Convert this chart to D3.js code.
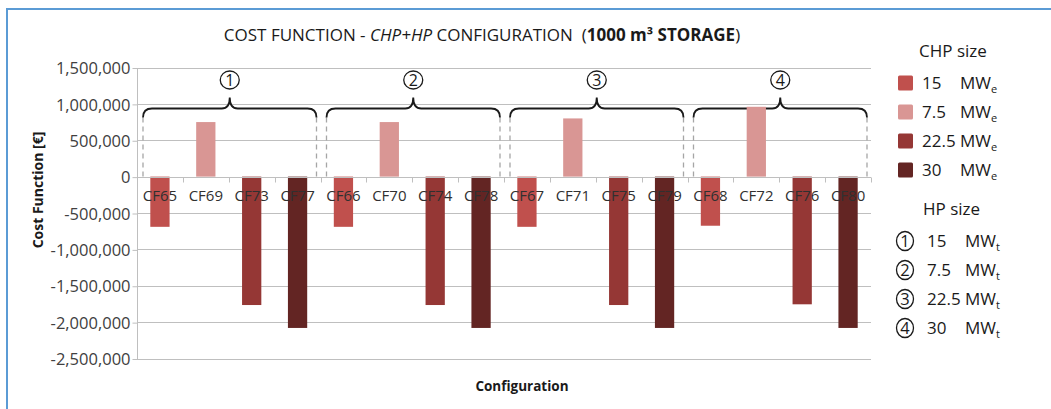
<!DOCTYPE html>
<html>
<head>
<meta charset="utf-8">
<script src="https://cdn.jsdelivr.net/npm/d3@7"></script>
<style>
  html, body { margin: 0; padding: 0; background: #fff; }
  svg { display: block; font-family: "Open Sans", "Noto Sans", sans-serif; }
</style>
</head>
<body>
<svg id="chart" width="1051" height="409"></svg>
<script>
// Configurations in drawing order, grouped by heat-pump size
const configs = ["CF65","CF69","CF73","CF77","CF66","CF70","CF74","CF78",
                 "CF67","CF71","CF75","CF79","CF68","CF72","CF76","CF80"];
// Cost function value of each configuration (€)
const costValues = [-690000, 750000, -1765000, -2080000,
                    -690000, 750000, -1765000, -2080000,
                    -690000, 800000, -1765000, -2080000,
                    -675000, 960000, -1755000, -2080000];
// CHP size index (into chpSizes) of each configuration
const configChp = [0,1,2,3, 0,1,2,3, 0,1,2,3, 0,1,2,3];
// HP size group (into hpSizes) of each configuration
const configHp  = [0,0,0,0, 1,1,1,1, 2,2,2,2, 3,3,3,3];

const chpSizes = ["15", "7.5", "22.5", "30"];
const chpColors = ["#C0504D", "#D99694", "#953735", "#632523"];
const hpSizes = ["15", "7.5", "22.5", "30"];
const hpMarks = ["1", "2", "3", "4"];

const yTicks = [1500000, 1000000, 500000, 0, -500000, -1000000, -1500000, -2000000, -2500000];

const svg = d3.select("#chart");

// frame
svg.append("path")
  .attr("d", "M7,409 L7,9 L1051,9")
  .attr("fill", "none").attr("stroke", "#5B9BD5").attr("stroke-width", 2);

const plot = { left: 137, right: 871, top: 67.5, bottom: 358.5 };

const x = d3.scaleBand().domain(configs).range([plot.left, plot.right]).padding(0);
const y = d3.scaleLinear().domain([-2500000, 1500000]).range([plot.bottom, plot.top]);

// horizontal gridlines
svg.append("g").selectAll("line").data(yTicks).join("line")
  .attr("x1", plot.left).attr("x2", plot.right)
  .attr("y1", d => Math.round(y(d)) + 0.5).attr("y2", d => Math.round(y(d)) + 0.5)
  .attr("stroke", "#BFBFBF").attr("stroke-width", 1);

// y axis (hyphen for negatives, thousands separated by commas)
const fmt = d3.format(",");
const yAxis = d3.axisLeft(y).tickValues(yTicks).tickSize(5)
  .tickFormat(d => fmt(d).replace("\u2212", "-"));
const gy = svg.append("g").attr("transform", `translate(${plot.left + 0.5},0.5)`).call(yAxis);
gy.select(".domain").attr("stroke", "#BFBFBF").attr("d", `M0,${Math.round(plot.top)}V${Math.round(plot.bottom)}`);
gy.selectAll(".tick line").attr("stroke", "#BFBFBF");
gy.selectAll(".tick text")
  .attr("x", -7).attr("dy", "0.34em")
  .attr("fill", "#404040").style("font-size", "16.5px")
  .style("font-family", "\"Open Sans\", sans-serif");

// dashed group separators and braces
const groups = d3.range(hpSizes.length).map(g => {
  const members = configs.filter((c, i) => configHp[i] === g);
  const x0 = x(members[0]) + 6;
  const x1 = x(members[members.length - 1]) + x.bandwidth() - 4;
  return { g, x0, x1 };
});

const braceTop = 108.5, braceEnd = 117.5, bracePeak = 97.5;
svg.append("g").selectAll("path").data(groups).join("path")
  .attr("d", d => `M${d.x0},${braceEnd}V${y(0)} M${d.x1},${braceEnd}V${y(0)}`)
  .attr("stroke", "#A6A6A6").attr("stroke-width", 1.3)
  .attr("stroke-dasharray", "5,4").attr("fill", "none");

svg.append("g").selectAll("path").data(groups).join("path")
  .attr("d", d => {
    const m = (d.x0 + d.x1) / 2;
    return `M${d.x0},${braceEnd}` +
      `Q${d.x0},${braceTop} ${d.x0 + 9},${braceTop}` +
      `H${m - 8}` +
      `Q${m},${braceTop} ${m},${bracePeak}` +
      `Q${m},${braceTop} ${m + 8},${braceTop}` +
      `H${d.x1 - 9}` +
      `Q${d.x1},${braceTop} ${d.x1},${braceEnd}`;
  })
  .attr("fill", "none").attr("stroke", "#1a1a1a").attr("stroke-width", 1.8);

const markers = svg.append("g").selectAll("g").data(groups).join("g")
  .attr("transform", d => `translate(${(d.x0 + d.x1) / 2},80)`);
markers.append("ellipse").attr("rx", 9.5).attr("ry", 9)
  .attr("fill", "#fff").attr("stroke", "#1a1a1a").attr("stroke-width", 1.3);
markers.append("text").attr("text-anchor", "middle").attr("dy", "0.36em")
  .style("font-size", "16px").attr("fill", "#1a1a1a").text(d => hpMarks[d.g]);

// bars
const barW = x.bandwidth() * 0.42;
svg.append("g").selectAll("rect").data(configs).join("rect")
  .attr("x", d => x(d) + (x.bandwidth() - barW) / 2)
  .attr("width", barW)
  .attr("y", (d, i) => y(Math.max(0, costValues[i])))
  .attr("height", (d, i) => Math.abs(y(costValues[i]) - y(0)))
  .attr("fill", (d, i) => chpColors[configChp[i]]);

// category axis along zero
const zeroY = Math.round(y(0)) + 0.5;
svg.append("line").attr("x1", plot.left).attr("x2", plot.right)
  .attr("y1", zeroY).attr("y2", zeroY).attr("stroke", "#BFBFBF");
svg.append("g").selectAll("line").data(configs).join("line")
  .attr("x1", d => Math.round(x(d) + x.bandwidth()) + 0.5)
  .attr("x2", d => Math.round(x(d) + x.bandwidth()) + 0.5)
  .attr("y1", zeroY).attr("y2", zeroY + 5).attr("stroke", "#BFBFBF");

svg.append("g").selectAll("text").data(configs).join("text")
  .attr("x", d => x(d) + x.bandwidth() / 2)
  .attr("y", 201)
  .attr("text-anchor", "middle")
  .style("font-size", "15px").attr("fill", "#303030")
  .text(d => d);

// title
const title = svg.append("text").attr("x", 482).attr("y", 41)
  .attr("text-anchor", "middle").style("font-size", "17px").attr("fill", "#1a1a1a")
  .attr("xml:space", "preserve");
title.append("tspan").text("COST FUNCTION - ");
title.append("tspan").style("font-style", "italic").text("CHP+HP");
title.append("tspan").text(" CONFIGURATION  (");
title.append("tspan").style("font-weight", "bold").text("1000 m³ STORAGE");
title.append("tspan").text(")");

// axis titles
svg.append("text")
  .attr("transform", "translate(43,190) rotate(-90)")
  .attr("text-anchor", "middle").style("font-size", "14px").style("font-weight", "bold")
  .attr("fill", "#1a1a1a").text("Cost Function [€]");
svg.append("text").attr("x", 522).attr("y", 391)
  .attr("text-anchor", "middle").style("font-size", "13.5px").style("font-weight", "bold")
  .attr("fill", "#1a1a1a").text("Configuration");

// legend: CHP size
svg.append("text").attr("x", 919).attr("y", 57).style("font-size", "17px")
  .attr("fill", "#1a1a1a").text("CHP size");
const chpRows = svg.append("g").selectAll("g").data(chpSizes).join("g")
  .attr("transform", (d, i) => `translate(0,${83 + i * 29})`);
chpRows.append("rect").attr("x", 898).attr("y", -7.5).attr("width", 15).attr("height", 15)
  .attr("rx", 1.5).attr("fill", (d, i) => chpColors[i]);
chpRows.append("text").attr("x", 922).attr("y", 6).style("font-size", "17px")
  .attr("fill", "#1a1a1a").text(d => d);
const chpUnit = chpRows.append("text").attr("x", 960).attr("y", 6).style("font-size", "17px")
  .attr("fill", "#1a1a1a");
chpUnit.append("tspan").text("MW");
chpUnit.append("tspan").attr("dy", 4).style("font-size", "11px").text("e");

// legend: HP size
svg.append("text").attr("x", 923).attr("y", 215).style("font-size", "17px")
  .attr("fill", "#1a1a1a").text("HP size");
const hpRows = svg.append("g").selectAll("g").data(hpSizes).join("g")
  .attr("transform", (d, i) => `translate(0,${241 + i * 29})`);
hpRows.append("ellipse").attr("cx", 905).attr("rx", 8.5).attr("ry", 9.5)
  .attr("fill", "none").attr("stroke", "#1a1a1a").attr("stroke-width", 1.3);
hpRows.append("text").attr("x", 905).attr("dy", "0.36em").attr("text-anchor", "middle")
  .style("font-size", "16.5px").attr("fill", "#1a1a1a").text((d, i) => hpMarks[i]);
hpRows.append("text").attr("x", 927).attr("y", 6).style("font-size", "17px")
  .attr("fill", "#1a1a1a").text(d => d);
const hpUnit = hpRows.append("text").attr("x", 965).attr("y", 6).style("font-size", "17px")
  .attr("fill", "#1a1a1a");
hpUnit.append("tspan").text("MW");
hpUnit.append("tspan").attr("dy", 4).style("font-size", "11px").text("t");
</script>
</body>
</html>
